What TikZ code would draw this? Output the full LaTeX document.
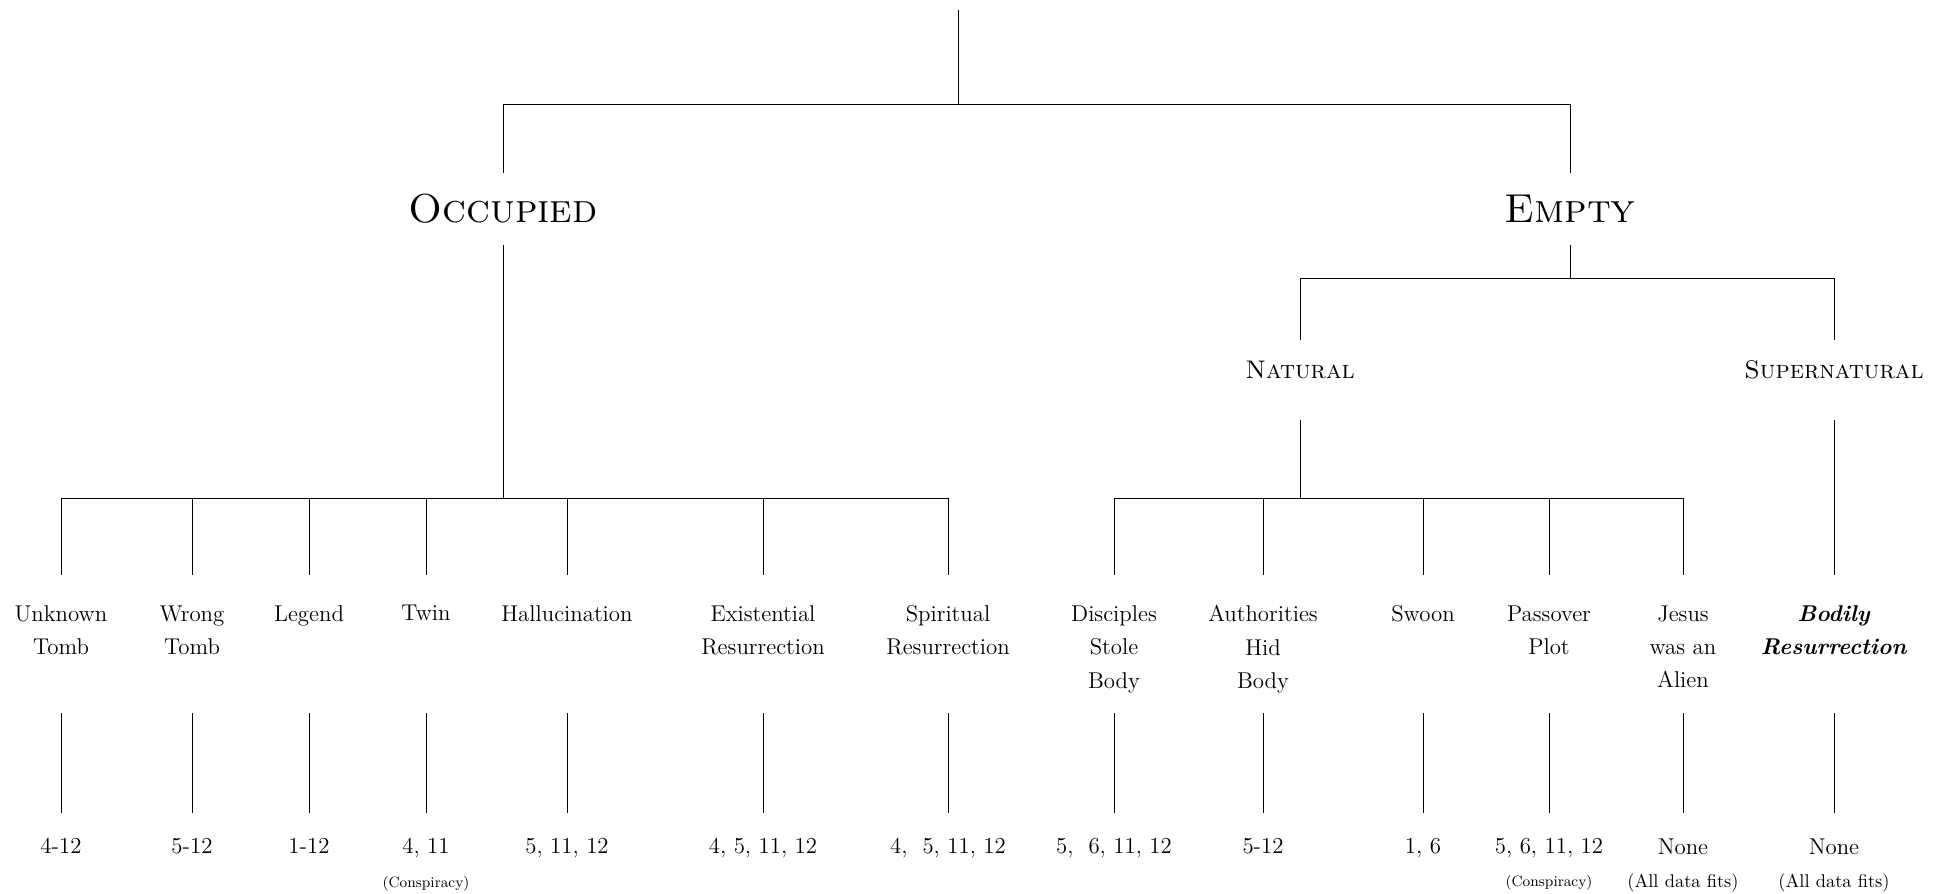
\documentclass[tikz,border=0pt]{standalone}
\usepackage{tikz}
\tikzstyle{heading} = [rectangle, 
minimum height=1.44cm, 
text centered, 
font=\fontsize{23}{27}\selectfont\scshape]
\tikzstyle{subheading} = [rectangle, 
minimum height=1.2cm, 
text centered, 
font=\fontsize{14.5}{18}\selectfont\scshape]
\tikzstyle{leaf} = [rectangle, anchor=north, 
inner ysep=0.6cm, 
align=center, 
font=\fontsize{13}{19}\selectfont]
\tikzstyle{count} = [rectangle, anchor=north, 
inner ysep=0.5cm, 
align=center, 
font=\fontsize{13}{19}\selectfont]
\newcommand{\smallnote}[1]{{\fontsize{8.5}{10}\selectfont #1}}
\newcommand{\fitsnote}[1]{{\fontsize{10.5}{12}\selectfont #1}}

\begin{document}
\begin{tikzpicture}[x=0.02cm, y=-0.02cm, line width=0.45pt]
		\useasboundingbox[fill=white] (0,0) rectangle (1938,893);
		\coordinate (root) at (958,10);
		\coordinate (topbar) at (958,104);
		\node (occ) [heading] at (503,209) {Occupied};
		\node (emp) [heading] at (1570,209) {Empty};
		\coordinate (occbar) at (503,498);
		\coordinate (empbar) at (1570,278);
		\node (nat) [subheading] at (1300,370) {Natural};
		\node (sup) [subheading] at (1834,370) {Supernatural};
		\coordinate (natbar) at (1300,498);
		\coordinate (low) at (0,713);
		
		\node (unk) [leaf] at (61,575) {Unknown\\Tomb};
		\node (wro) [leaf] at (192,575) {Wrong\\Tomb};
		\node (leg) [leaf] at (309,575) {Legend};
		\node (twi) [leaf] at (426,575) {Twin};
		\node (hal) [leaf] at (567,575) {Hallucination};
		\node (exi) [leaf] at (763,575) {Existential\\Resurrection};
		\node (spi) [leaf] at (948,575) {Spiritual\\Resurrection};
		\node (dis) [leaf] at (1114,575) {Disciples\\Stole\\Body};
		\node (aut) [leaf] at (1263,575) {Authorities\\Hid\\Body};
		\node (swo) [leaf] at (1423,575) {Swoon};
		\node (pas) [leaf] at (1549,575) {Passover\\Plot};
		\node (jes) [leaf] at (1683,575) {Jesus\\was an\\Alien};
		\node (bod) [leaf] at (1834,575) {\textbf{\textit{Bodily}}\\\textbf{\textit{Resurrection}}};
		
		\node (unkn) [count] at (61,813) {4-12};
		\node (wron) [count] at (192,813) {5-12};
		\node (legn) [count] at (309,813) {1-12};
		\node (twin) [count] at (426,813) {4, 11\\\smallnote{(Conspiracy)}};
		\node (haln) [count] at (567,813) {5, 11, 12};
		\node (exin) [count] at (763,813) {4, 5, 11, 12};
		\node (spin) [count] at (948,813) {4,~ 5, 11, 12};
		\node (disn) [count] at (1114,813) {5,~ 6, 11, 12};
		\node (autn) [count] at (1263,813) {5-12};
		\node (swon) [count] at (1423,813) {1, 6};
		\node (pasn) [count] at (1549,813) {5, 6, 11, 12\\\smallnote{(Conspiracy)}};
		\node (jesn) [count] at (1683,813) {None\\\fitsnote{(All data fits)}};
		\node (bodn) [count] at (1834,813) {None\\\fitsnote{(All data fits)}};
		
		\draw (root) -- (topbar);
		\draw (occ.north |- topbar) -- (emp.north |- topbar);
		\draw (occ.north |- topbar) -- (occ.north);
		\draw (emp.north |- topbar) -- (emp.north);
		\draw (occ.south) -- (occbar);
		\draw (emp.south) -- (empbar);
		\draw (nat.north |- empbar) -- (sup.north |- empbar);
		\draw (nat.north |- empbar) -- (nat.north);
		\draw (sup.north |- empbar) -- (sup.north);
		\draw [shorten <=0.4cm](nat.south) -- (natbar);
		\draw [shorten <=0.4cm](sup.south) -- (bod.north);
		
		\draw (unk.north |- occbar) -- (spi.north |- occbar);
		\draw (unk.north |- occbar) -- (unk.north);
		\draw (wro.north |- occbar) -- (wro.north);
		\draw (leg.north |- occbar) -- (leg.north);
		\draw (twi.north |- occbar) -- (twi.north);
		\draw (hal.north |- occbar) -- (hal.north);
		\draw (exi.north |- occbar) -- (exi.north);
		\draw (spi.north |- occbar) -- (spi.north);
		\draw (dis.north |- natbar) -- (jes.north |- natbar);
		\draw (dis.north |- natbar) -- (dis.north);
		\draw (aut.north |- natbar) -- (aut.north);
		\draw (swo.north |- natbar) -- (swo.north);
		\draw (pas.north |- natbar) -- (pas.north);
		\draw (jes.north |- natbar) -- (jes.north);
		
		\draw (unk.north |- low) -- (unkn.north);
		\draw (wro.north |- low) -- (wron.north);
		\draw (leg.north |- low) -- (legn.north);
		\draw (twi.north |- low) -- (twin.north);
		\draw (hal.north |- low) -- (haln.north);
		\draw (exi.north |- low) -- (exin.north);
		\draw (spi.north |- low) -- (spin.north);
		\draw (dis.north |- low) -- (disn.north);
		\draw (aut.north |- low) -- (autn.north);
		\draw (swo.north |- low) -- (swon.north);
		\draw (pas.north |- low) -- (pasn.north);
		\draw (jes.north |- low) -- (jesn.north);
		\draw (bod.north |- low) -- (bodn.north);
	\end{tikzpicture}
\end{document}
